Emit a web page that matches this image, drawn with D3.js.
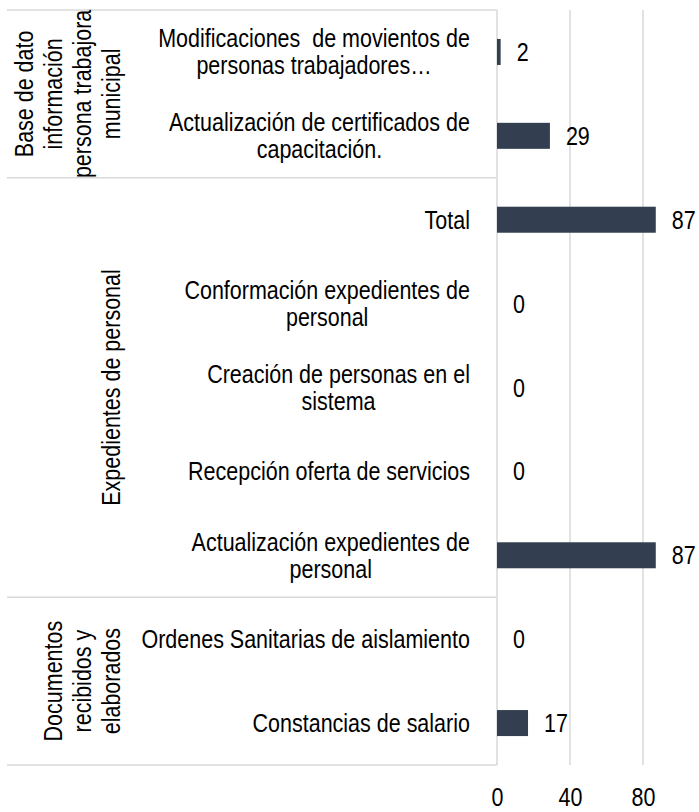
<!DOCTYPE html>
<html>
<head>
<meta charset="utf-8">
<script src="https://cdn.jsdelivr.net/npm/d3@7"></script>
<style>
  html, body { margin: 0; padding: 0; background: #fff; }
  svg { display: block; }
  text { font-family: "Liberation Sans", Arial, sans-serif; fill: #000; white-space: pre; }
</style>
</head>
<body>
<svg id="chart" width="699" height="812"></svg>
<script>
// ---- data ----
const groupLabels = [
  ["Base de dato", "información", "persona trabajora", "municipal"],
  ["Expedientes de personal"],
  ["Documentos", "recibidos y", "elaborados"]
];
const categoryLabels = [
  ["Modificaciones  de movientos de", "personas trabajadores…"],
  ["Actualización de certificados de", "capacitación."],
  ["Total"],
  ["Conformación expedientes de", "personal"],
  ["Creación de personas en el", "sistema"],
  ["Recepción oferta de servicios"],
  ["Actualización expedientes de", "personal"],
  ["Ordenes Sanitarias de aislamiento"],
  ["Constancias de salario"]
];
const categoryGroup = [0, 0, 1, 1, 1, 1, 1, 2, 2];
const values = [2, 29, 87, 0, 0, 0, 87, 0, 17];
const tickValues = [0, 40, 80];

// ---- layout ----
const plotTop = 10, plotBottom = 765;
const plotLeft = 497, plotRight = 679.5;
const sepLeft = 7;
const fontSize = 25;
const nf = 0.86;   // horizontal compression to emulate a narrow typeface
const lineGap = 27;
const groupLineGap = 29;
const gridColor = "#d9d9d9";
const barColor = "#333f50";

const svg = d3.select("#chart");

const x = d3.scaleLinear().domain([0, 100]).range([plotLeft, plotRight]);
const idx = d3.range(values.length);
const y = d3.scaleBand().domain(idx).range([plotTop, plotBottom])
  .paddingInner(0.69).paddingOuter(0.345);
const step = y.step();
const center = i => y(i) + y.bandwidth() / 2;

// gridlines
svg.append("g").selectAll("line").data(tickValues.filter(t => t > 0)).join("line")
  .attr("x1", d => x(d)).attr("x2", d => x(d))
  .attr("y1", plotTop).attr("y2", plotBottom)
  .attr("stroke", gridColor).attr("stroke-width", 1.5);

// group boundaries
const groupBounds = [];
groupLabels.forEach((g, gi) => {
  const members = idx.filter(i => categoryGroup[i] === gi);
  const top = y(members[0]) - y.paddingInner() * step / 2;
  const bottom = y(members[members.length - 1]) + y.bandwidth() + y.paddingInner() * step / 2;
  groupBounds.push({ gi, top, bottom });
});
const sepYs = [groupBounds[0].top].concat(groupBounds.map(b => b.bottom));
svg.append("g").selectAll("line").data(sepYs).join("line")
  .attr("x1", sepLeft).attr("x2", plotLeft)
  .attr("y1", d => d).attr("y2", d => d)
  .attr("stroke", gridColor).attr("stroke-width", 1.5);

// vertical axis line
svg.append("line")
  .attr("x1", x(0)).attr("x2", x(0))
  .attr("y1", plotTop).attr("y2", plotBottom)
  .attr("stroke", gridColor).attr("stroke-width", 1.5);

// bars
svg.append("g").selectAll("rect").data(idx).join("rect")
  .attr("x", x(0))
  .attr("y", i => y(i))
  .attr("width", i => x(values[i]) - x(0))
  .attr("height", y.bandwidth())
  .attr("fill", barColor);

// value labels
svg.append("g").selectAll("text").data(idx).join("text")
  .attr("font-size", fontSize)
  .attr("transform", i => `translate(${x(values[i]) + 16},${center(i) + fontSize * 0.36}) scale(${nf},1)`)
  .text(i => values[i]);

// category labels (block right aligned, lines centered within block)
const labelRight = 470;
const catG = svg.append("g");
idx.forEach(i => {
  const lines = categoryLabels[i];
  const n = lines.length;
  const tmp = lines.map((ln, k) => catG.append("text")
    .attr("font-size", fontSize)
    .attr("text-anchor", "middle")
    .text(ln));
  const maxW = d3.max(tmp, t => t.node().getComputedTextLength() * nf);
  tmp.forEach((t, k) => {
    const ty = center(i) + (k - (n - 1) / 2) * lineGap + fontSize * 0.36;
    t.attr("transform", `translate(${labelRight - maxW / 2},${ty}) scale(${nf},1)`);
  });
});

// group labels (rotated)
const groupRight = 120;
const grpG = svg.append("g");
groupBounds.forEach(b => {
  const lines = groupLabels[b.gi];
  const n = lines.length;
  const cy = (b.top + b.bottom) / 2;
  lines.forEach((ln, k) => {
    const bx = groupRight - (n - 1 - k) * groupLineGap;
    grpG.append("text")
      .attr("font-size", fontSize)
      .attr("text-anchor", "middle")
      .attr("transform", `translate(${bx},${cy}) rotate(-90) scale(${nf},1)`)
      .text(ln);
  });
});

// x axis ticks
const axis = d3.axisBottom(x).tickValues(tickValues).tickSize(0).tickFormat(d3.format("d"));
const ax = svg.append("g").attr("transform", `translate(0,${plotBottom})`).call(axis);
ax.select(".domain").remove();
ax.selectAll("text")
  .attr("font-size", fontSize)
  .attr("font-family", '"Liberation Sans", Arial, sans-serif')
  .attr("fill", "#000")
  .attr("dy", null)
  .attr("y", 0)
  .attr("transform", `translate(0,41) scale(${nf},1)`);
</script>
</body>
</html>
